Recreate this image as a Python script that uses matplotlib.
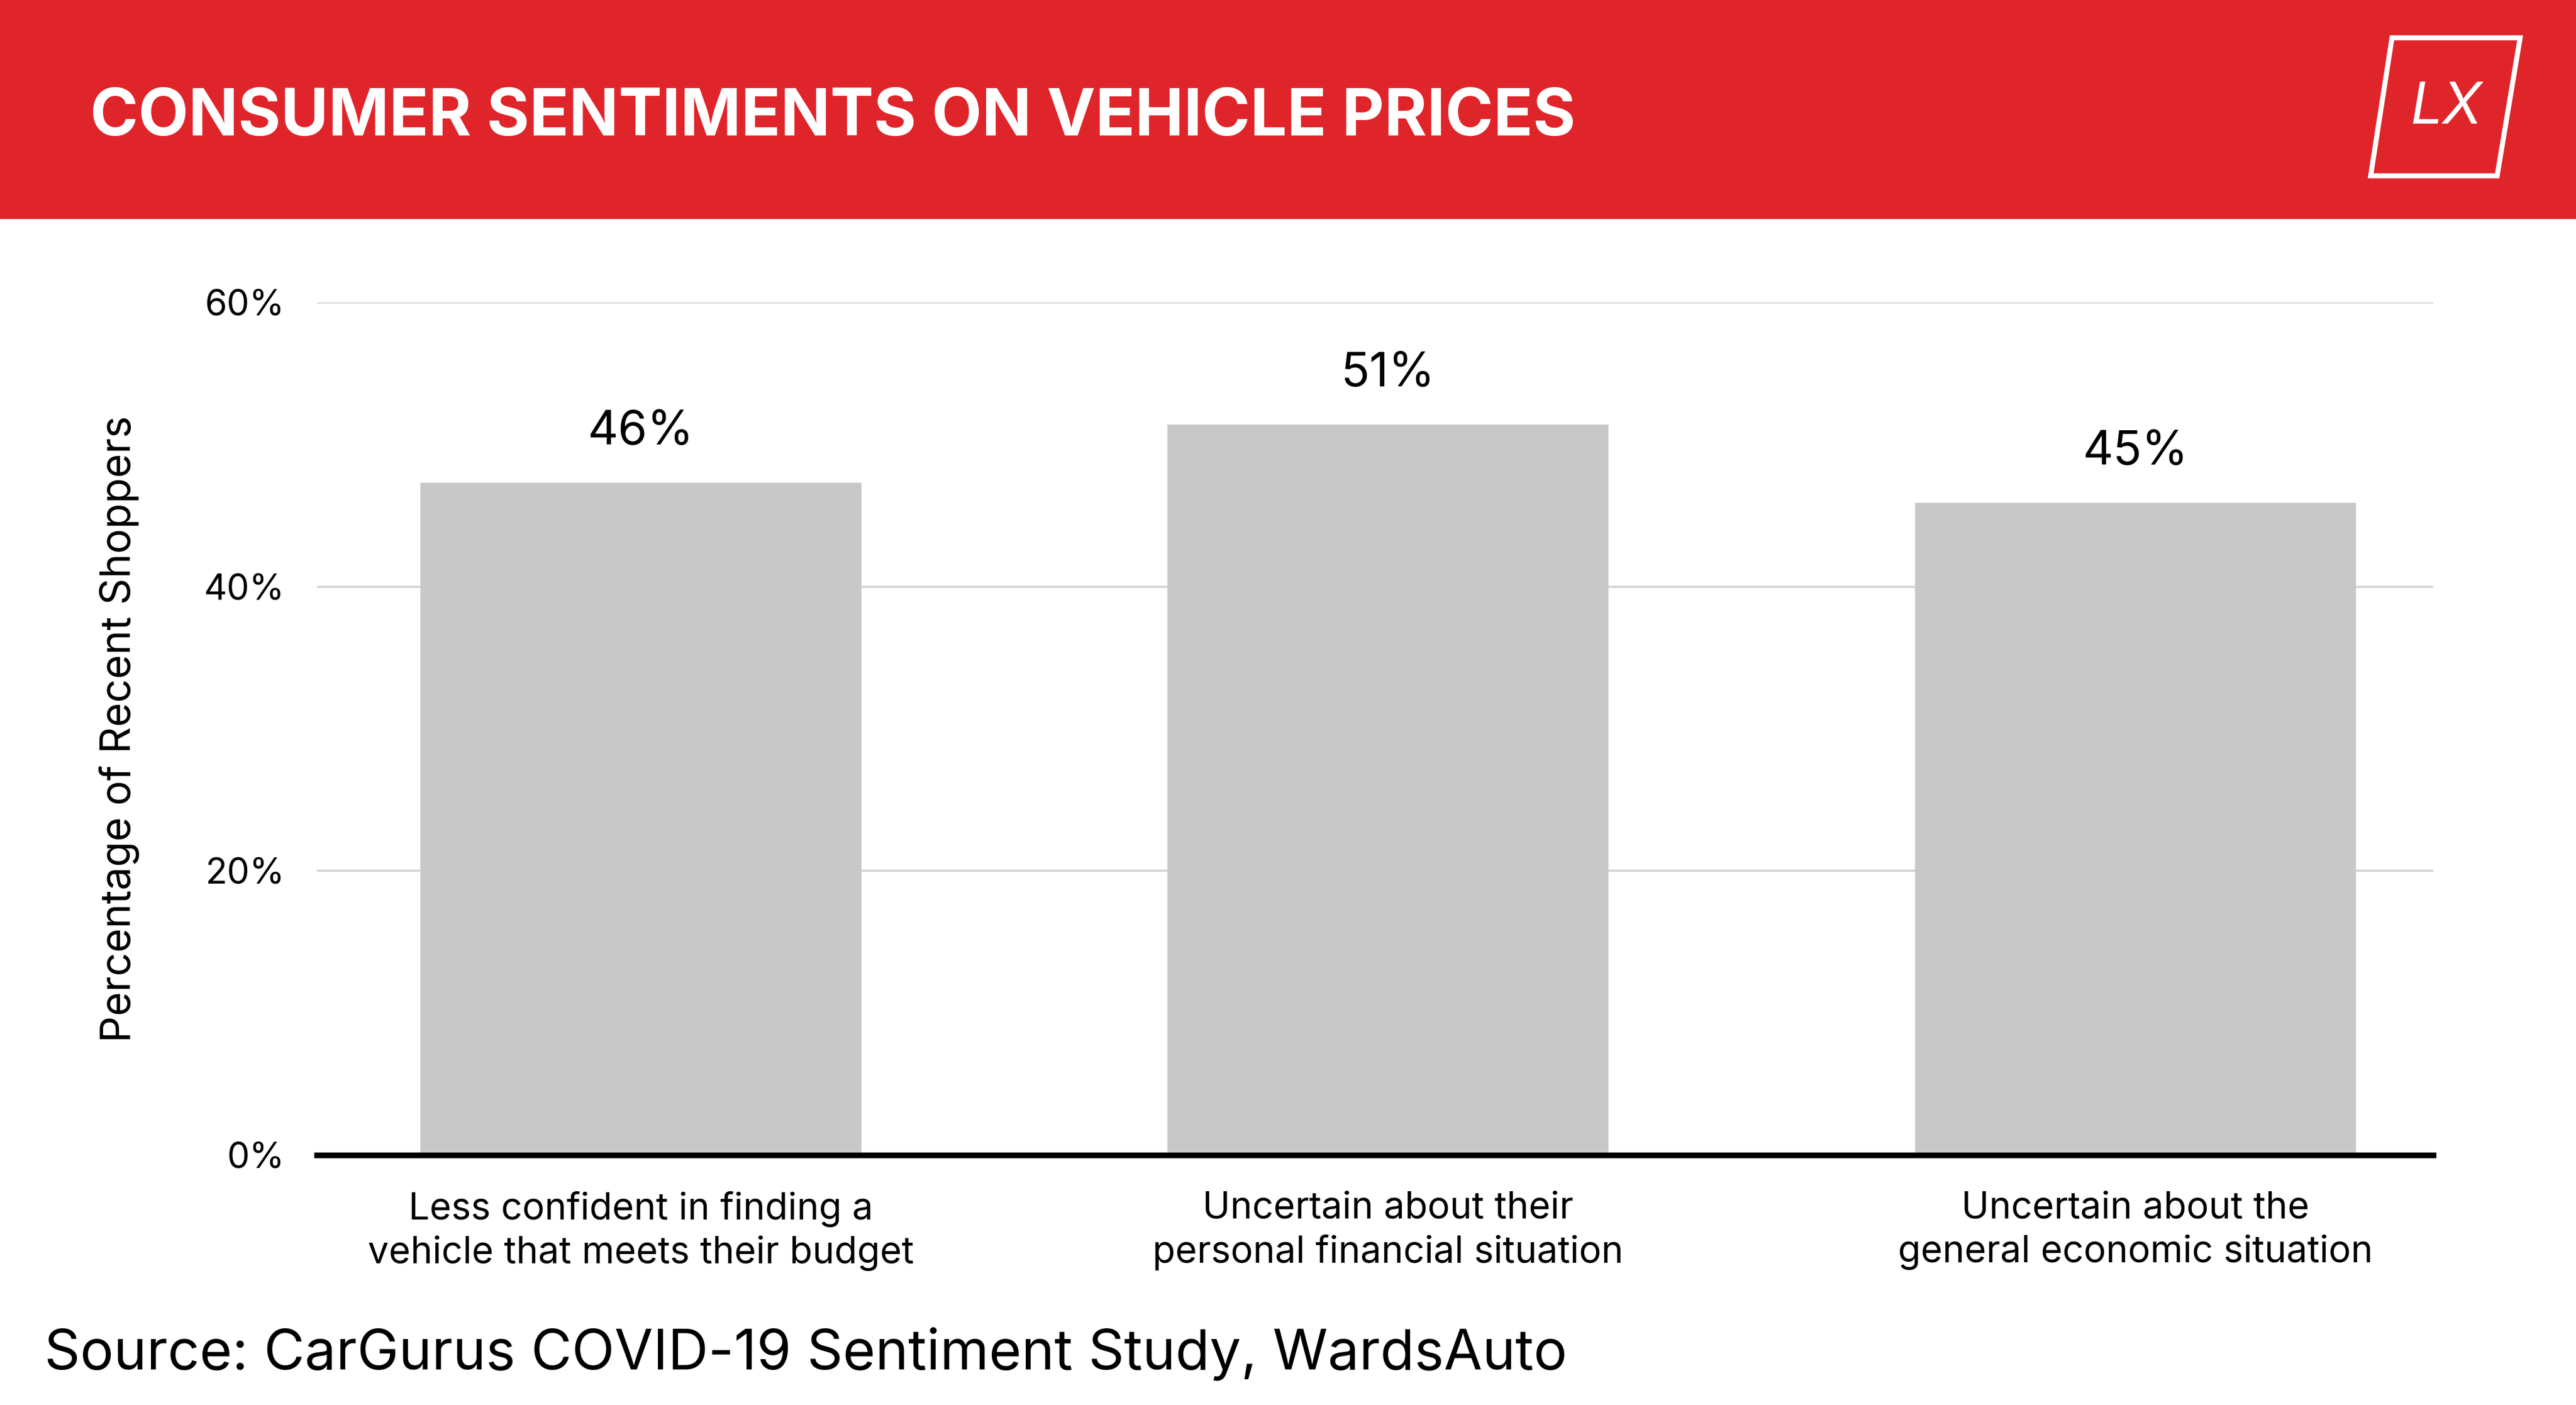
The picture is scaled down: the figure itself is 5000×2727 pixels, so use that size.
import matplotlib.pyplot as plt
from matplotlib.patches import Polygon, Rectangle

plt.rcParams['font.family'] = ['Inter', 'DejaVu Sans']

categories = ["Less confident in finding a\nvehicle that meets their budget",
              "Uncertain about their\npersonal financial situation",
              "Uncertain about the\ngeneral economic situation"]
bar_heights = [47.3, 51.4, 45.9]
bar_labels = ["46%", "51%", "45%"]
yticks = [0, 20, 40, 60]
ytick_labels = ["0%", "20%", "40%", "60%"]

W, H = 1568, 855  # reference pixel frame
fig = plt.figure(figsize=(50, 27.27), dpi=100)

def fx(x): return x / W
def fy(y): return 1 - y / H

# header
fig.patches.append(Rectangle((0, fy(133)), 1, 133 / H, transform=fig.transFigure,
                             color='#E0252A', zorder=0))
fig.text(fx(55), fy(72), "CONSUMER SENTIMENTS ON VEHICLE PRICES", color='white',
         fontsize=91, fontweight='bold', va='center', ha='left')
logo = [(fx(1456), fy(23)), (fx(1534), fy(23)), (fx(1520), fy(107)), (fx(1443), fy(107))]
fig.patches.append(Polygon(logo, closed=True, fill=False, edgecolor='white', lw=7,
                           transform=fig.transFigure))
fig.text(fx(1489), fy(66), "LX", color='white', fontsize=80, style='italic',
         ha='center', va='center')

ax = fig.add_axes([fx(193), fy(703), fx(1481 - 193), (703 - 184) / H])
x = range(len(categories))
ax.bar(x, bar_heights, width=0.59, color='#C8C8C8', zorder=2)
for i, (h, lab) in enumerate(zip(bar_heights, bar_labels)):
    ax.text(i, h + 2.0, lab, ha='center', va='bottom', fontsize=66)
ax.set_xlim(-0.433, 2.398)
ax.set_ylim(0, 60)
ax.set_yticks(yticks)
ax.set_yticklabels(ytick_labels, fontsize=50)
ax.set_xticks(list(x))
ax.set_xticklabels(categories, fontsize=52, linespacing=1.3)
ax.tick_params(length=0, pad=45)
ax.tick_params(axis='x', pad=50)
ax.grid(axis='y', color='#D3D3D3', lw=3, zorder=0)
for s in ['top', 'right', 'left']:
    ax.spines[s].set_visible(False)
ax.spines['bottom'].set_linewidth(8)
ax.spines['bottom'].set_zorder(3)
ax.set_ylabel("Percentage of Recent Shoppers", fontsize=58, labelpad=90)

fig.text(fx(27), fy(824), "Source: CarGurus COVID-19 Sentiment Study, WardsAuto",
         fontsize=78, va='center', ha='left')

fig.savefig("out.png", dpi=100, facecolor='white')
